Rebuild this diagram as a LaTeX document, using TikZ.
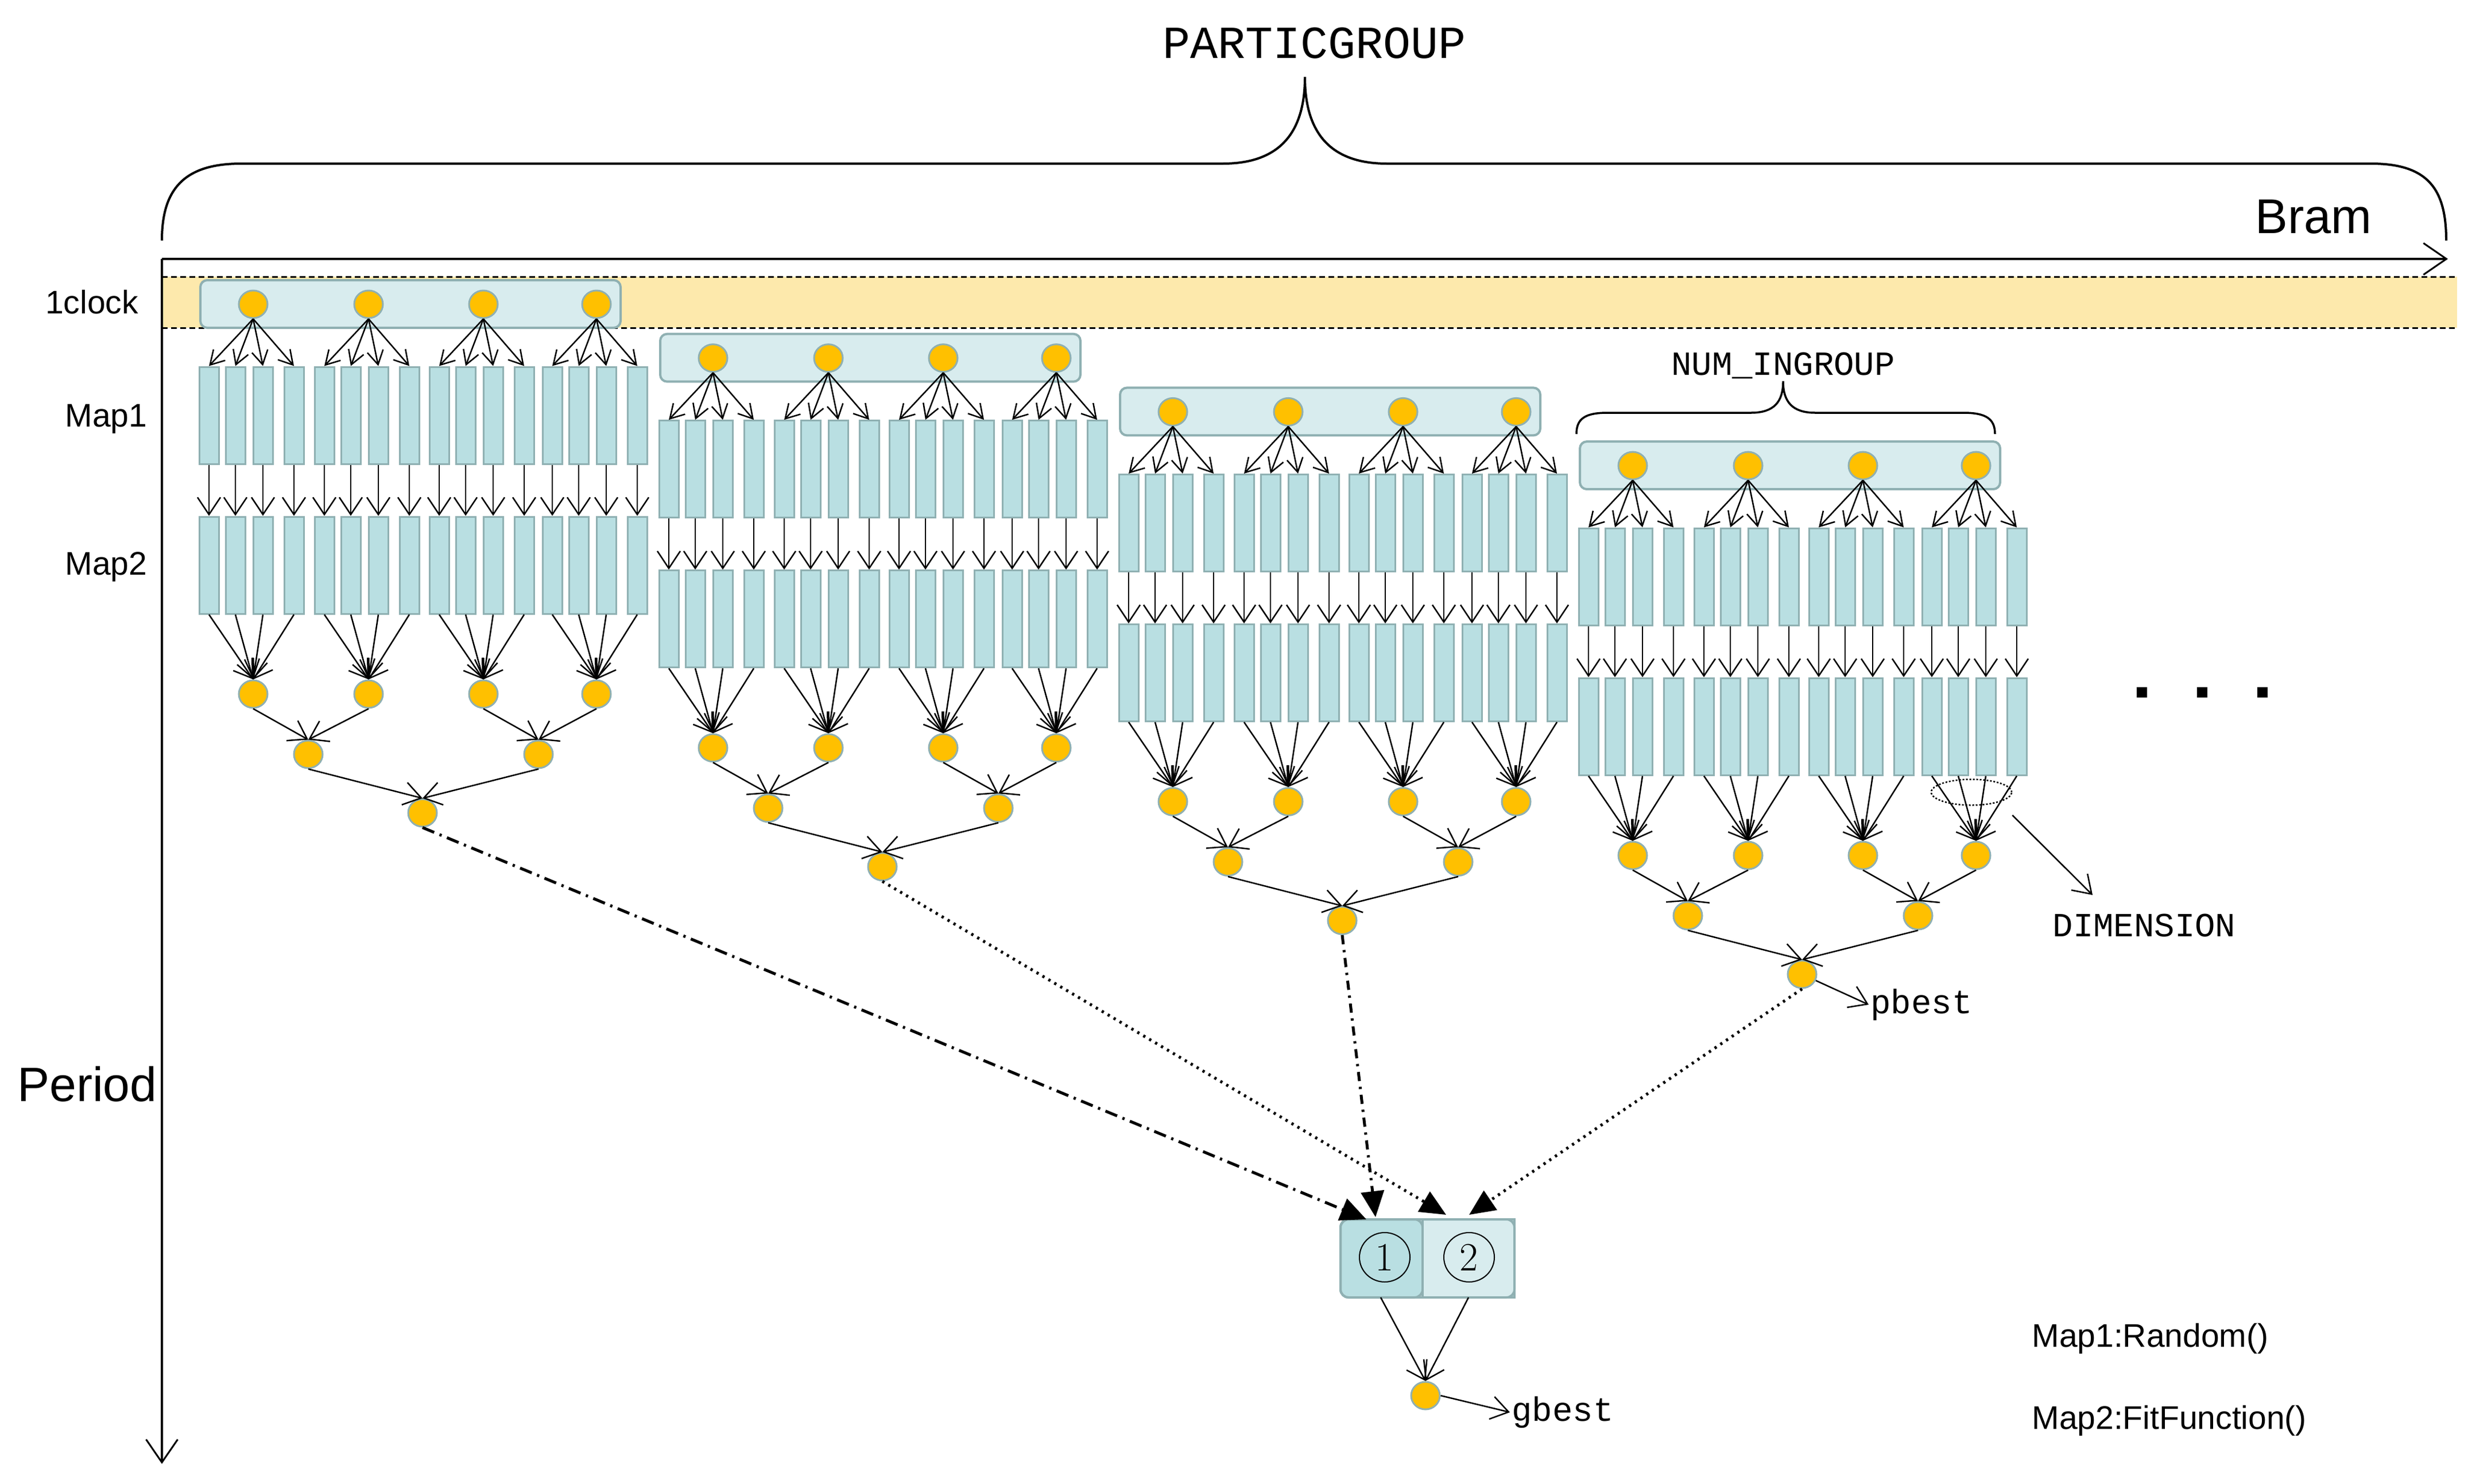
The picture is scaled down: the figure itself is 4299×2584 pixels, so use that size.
\documentclass[tikz,border=0pt]{standalone}
\usepackage{fontspec}
\setmainfont{Liberation Sans}
\newfontfamily\monof{Liberation Mono}
\newfontfamily\lmf{Latin Modern Roman}
\usetikzlibrary{arrows.meta,shapes.geometric}
\definecolor{boxfill}{HTML}{D8ECEE}
\definecolor{boxline}{HTML}{8FB0B2}
\definecolor{rectfill}{HTML}{B9DFE2}
\definecolor{dotfill}{HTML}{FFC000}
\definecolor{band}{HTML}{FDE9AC}
\tikzset{
 grp/.style={draw=boxline,fill=boxfill,line width=4pt,rounded corners=12pt,minimum width=732pt,minimum height=83pt,inner sep=0pt},
 cell/.style={draw=boxline,fill=rectfill,line width=3pt,minimum width=34pt,minimum height=169pt,inner sep=0pt},
 dot/.style={ellipse,draw=boxline,fill=dotfill,line width=3pt,minimum width=50pt,minimum height=48pt,inner sep=0pt},
 arr/.style={line width=2.5pt,-{Straight Barb[length=30pt,width=40pt,line width=2.5pt]}},
 farr/.style={line width=2.5pt,-{Straight Barb[length=24pt,width=28pt,line width=2.5pt]}},
 lbl/.style={font=\fontsize{57}{60}\selectfont},
 mono/.style={font=\monof\fontsize{59}{62}\selectfont},
 lnk/.style={line width=5pt,-{Triangle[length=45pt,width=40pt]}},
}
\begin{document}
\begin{tikzpicture}[x=1pt,y=-1pt]
\useasboundingbox (0,0) rectangle (4299,2584);
% band
\fill[band] (282,482) rectangle (4280,571);
\draw[dashed,line width=3pt,dash pattern=on 10pt off 6pt] (282,482) -- (4280,482) (282,571) -- (4280,571);
% axes
\draw[line width=4pt,-{Straight Barb[length=40pt,width=55pt,line width=3pt]}] (282,451) -- (4264,451);
\draw[line width=4pt,-{Straight Barb[length=40pt,width=55pt,line width=3pt]}] (282,451) -- (282,2550);
% top brace
\draw[line width=4pt] (282,419) .. controls (282,330) and (320,285) .. (420,285) -- (2130,285) .. controls (2230,285) and (2273,230) .. (2273,134) .. controls (2273,230) and (2316,285) .. (2416,285) -- (4130,285) .. controls (4230,285) and (4261,330) .. (4261,419);
\node[font=\monof\fontsize{80}{84}\selectfont] (pg) at (2290,75) {PARTICGROUP};
\node[font=\fontsize{85}{88}\selectfont] (bram) at (4030,378) {Bram};
\node[lbl] (clk) at (160,526) {1clock};
\node[lbl] (m1) at (185,730) {Map1};
\node[lbl] (m2) at (185,987) {Map2};
\node[font=\fontsize{84}{88}\selectfont] (per) at (152,1888) {Period};
% groups
\foreach \g in {0,1,2,3}{
 \pgfmathsetmacro{\dx}{801*\g}
 \pgfmathsetmacro{\dy}{93.7*\g}
 \begin{scope}[shift={(\dx,\dy)}]
 \node[grp] (box\g) at (715,529.5) {};
 \foreach \c/\cx in {0/441,1/642,2/842,3/1039}{
  \node[dot] (t\g\c) at (\cx,530) {};
  \foreach \r/\ro in {0/-77,1/-31,2/17,3/71}{
   \node[cell] (a\g\c\r) at (\cx+\ro,723.5) {};
   \node[cell] (b\g\c\r) at (\cx+\ro,984.5) {};
  }
  \node[dot] (l\g\c) at (\cx,1209) {};
 }
 \node[dot] (m\g0) at (537,1314) {};
 \node[dot] (m\g1) at (938,1314) {};
 \node[dot] (p\g) at (736,1416) {};
 \end{scope}
 \foreach \c in {0,1,2,3}{
  \foreach \r in {0,1,2,3}{
   \draw[farr] (t\g\c.south) -- (a\g\c\r.north);
   \draw[arr] (a\g\c\r.south) -- (b\g\c\r.north);
   \draw[arr] (b\g\c\r.south) -- (l\g\c.north);
  }
 }
 \draw[arr] (l\g0.south) -- (m\g0.north);
 \draw[arr] (l\g1.south) -- (m\g0.north);
 \draw[arr] (l\g2.south) -- (m\g1.north);
 \draw[arr] (l\g3.south) -- (m\g1.north);
 \draw[arr] (m\g0.south) -- (p\g.north);
 \draw[arr] (m\g1.south) -- (p\g.north);
}
% NUM_INGROUP brace
\draw[line width=3.5pt] (2746,756) .. controls (2746,730) and (2760,719) .. (2800,719) -- (3050,719) .. controls (3090,719) and (3106,700) .. (3106,664) .. controls (3106,700) and (3122,719) .. (3162,719) -- (3420,719) .. controls (3460,719) and (3475,730) .. (3475,756);
\node[mono] (ning) at (3106,637) {NUM\_INGROUP};
% dimension
\node[ellipse,draw,dashed,line width=2.5pt,minimum width=140pt,minimum height=45pt] (dimel) at (3434,1380) {};
\node[mono] (dim) at (3735,1612) {DIMENSION};
\draw[arr] (dimel.east) ++(0,40) coordinate (dimst) -- (3645,1559) coordinate (dimend);
% ellipsis dots
\foreach \x [count=\i] in {3731,3836,3941}{\fill (\x-9,1197) rectangle (\x+9,1215);}
% pbest
\node[mono,anchor=west] (pb) at (3255,1750) {pbest};
\draw[arr] (p3) -- (pb.west);
% final box
\node[draw=boxline,fill=rectfill,line width=4pt,rounded corners=14pt,minimum width=143pt,minimum height=136pt,inner sep=0pt] (n1) at (2406.5,2192) {};
\node[draw=boxline,fill=boxfill,line width=4pt,minimum width=160pt,minimum height=136pt,inner sep=0pt] (n2) at (2558,2192) {};
\fill[boxfill] (2480,2124) rectangle (2600,2260);
\draw[boxline,line width=4pt,rounded corners=14pt] (2335,2124) rectangle (2638,2260);
\draw[boxline,line width=4pt] (2478,2124) -- (2478,2260);
\node[ellipse,draw,line width=2pt,minimum width=88pt,minimum height=86pt,inner sep=0pt,font=\lmf\fontsize{70}{72}\selectfont] (c1) at (2412,2190) {1};
\node[ellipse,draw,line width=2pt,minimum width=88pt,minimum height=86pt,inner sep=0pt,font=\lmf\fontsize{70}{72}\selectfont] (c2) at (2559,2190) {2};
\coordinate (in1) at (2380,2124);
\coordinate (in2) at (2396,2120);
\coordinate (in3) at (2519,2116);
\coordinate (in4) at (2559,2116);
\draw[lnk,dash pattern=on 22pt off 10pt on 4pt off 10pt] (p0.south) -- (in1);
\draw[lnk,dash pattern=on 16pt off 10pt on 4pt off 10pt] (p2.south) -- (in2);
\draw[lnk,dash pattern=on 4pt off 8pt] (p1.south) -- (in3);
\draw[lnk,dash pattern=on 4pt off 8pt] (p3.south) -- (in4);
\node[dot] (gb) at (2483,2431) {};
\coordinate (o1) at (2405,2260);
\coordinate (o2) at (2558,2260);
\draw[arr] (o1) -- (gb.north);
\draw[arr] (o2) -- (gb.north);
\node[mono,anchor=west] (gbt) at (2630,2460) {gbest};
\draw[arr] (gb.east) -- (gbt.west);
\node[lbl,anchor=west] (r1) at (3536,2332) {Map1:Random()};
\node[lbl,anchor=west] (r2) at (3536,2475) {Map2:FitFunction()};
\end{tikzpicture}
\end{document}
